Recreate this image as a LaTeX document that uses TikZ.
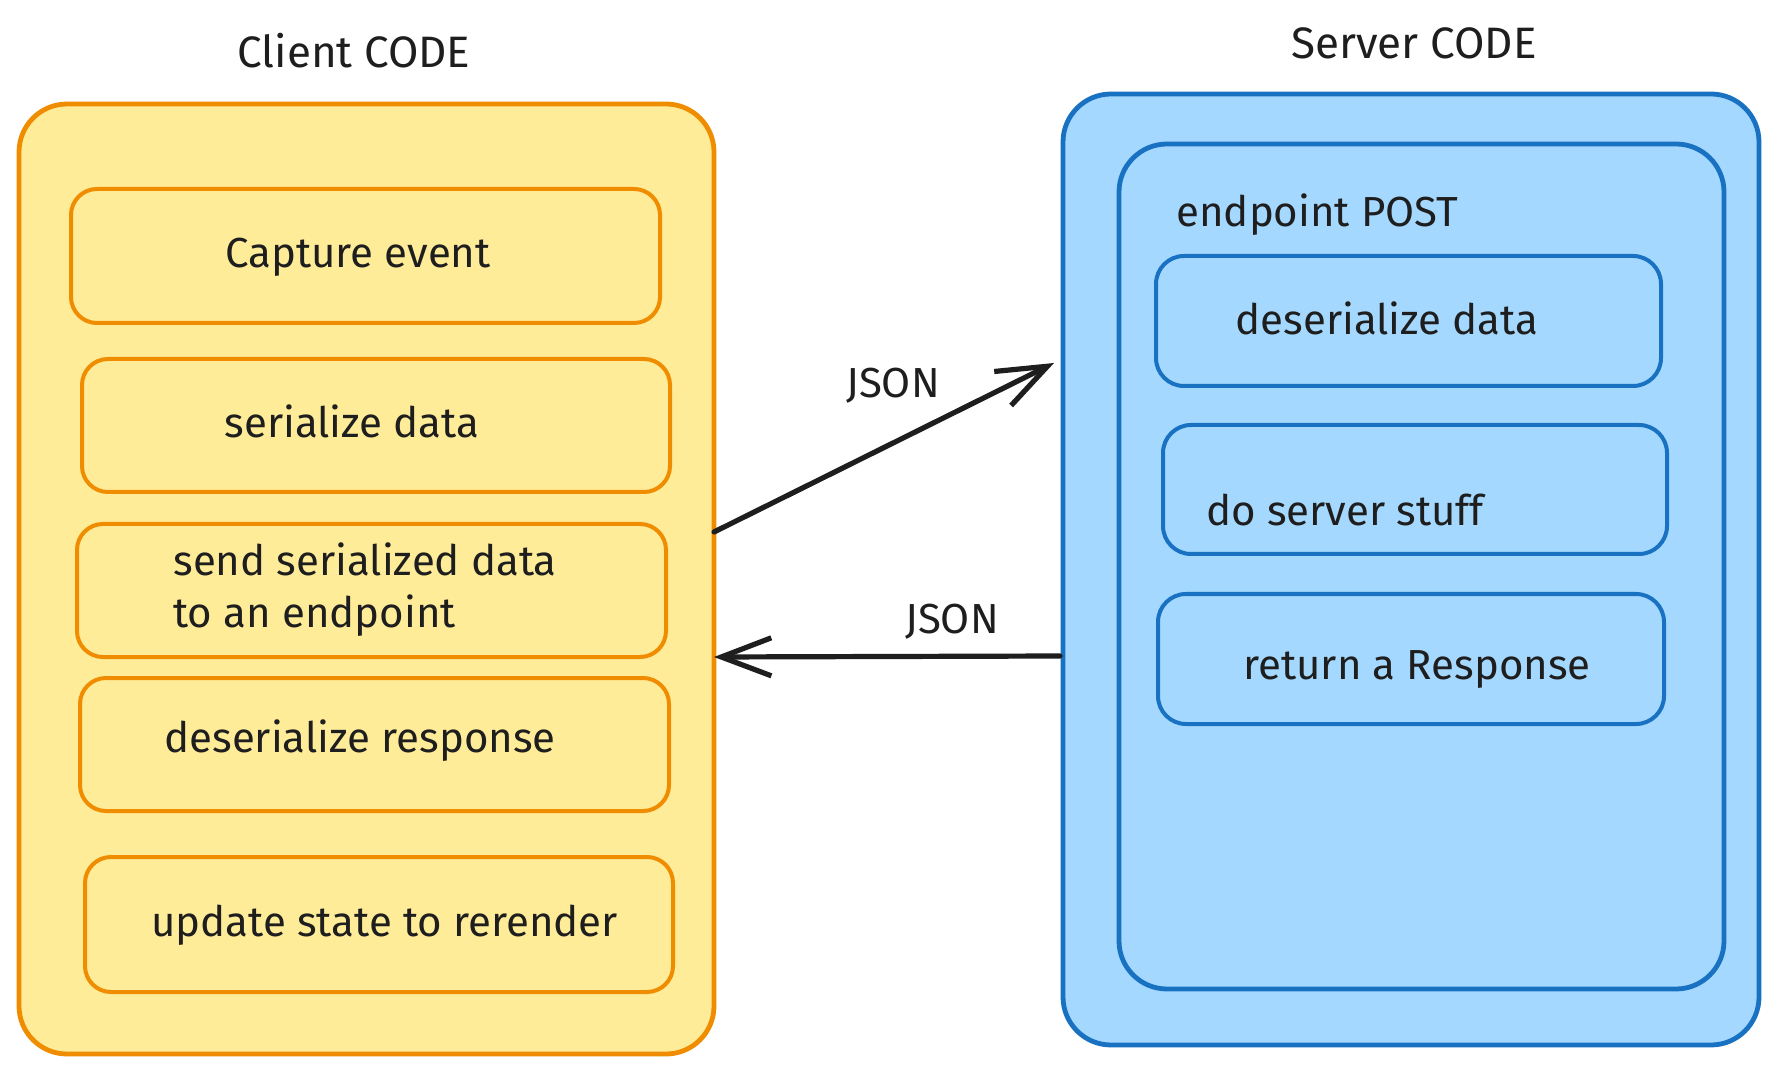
\documentclass[tikz,border=0pt]{standalone}
\usepackage{fontspec}
\setmainfont{Fira Sans}
\usetikzlibrary{arrows.meta}
\definecolor{ylfill}{HTML}{FFEC99}
\definecolor{ylline}{HTML}{F08C00}
\definecolor{blfill}{HTML}{A5D8FF}
\definecolor{blline}{HTML}{1971C2}
\definecolor{ink}{HTML}{1E1E1E}
\tikzset{
  outerc/.style={draw=ylline, fill=ylfill, line width=2.4pt, rounded corners=24pt, inner sep=0pt},
  innerc/.style={draw=ylline, fill=ylfill, line width=2pt, rounded corners=13pt, inner sep=0pt},
  outers/.style={draw=blline, fill=blfill, line width=2.4pt, rounded corners=24pt, inner sep=0pt},
  inners/.style={draw=blline, fill=blfill, line width=2pt, rounded corners=14pt, inner sep=0pt},
  lbl/.style={text=ink, font=\fontsize{21}{25}\selectfont, inner sep=0pt},
  ttl/.style={text=ink, font=\fontsize{22}{26}\selectfont, inner sep=0pt},
  conn/.style={draw=ink, line width=2.6pt, line cap=round, line join=round,
    -{Straight Barb[length=25pt, width=19pt, line width=2.6pt]}},
}
\begin{document}
\begin{tikzpicture}[x=0.5pt, y=-0.5pt]
\useasboundingbox[fill=white] (0,0) rectangle (1777,1074);
% titles
\node[ttl] (tclient) at (354,51) {Client CODE};
\node[ttl] (tserver) at (1414,43) {Server CODE};
% client
\node[outerc, minimum width=347.5pt, minimum height=475pt] (client) at (366.5,579) {};
\node[innerc, minimum width=294.5pt, minimum height=67pt] (c1) at (365.5,256) {};
\node[innerc, minimum width=294pt, minimum height=66.5pt] (c2) at (376,425.5) {};
\node[innerc, minimum width=294.5pt, minimum height=66.5pt] (c3) at (371.5,590.5) {};
\node[innerc, minimum width=294.5pt, minimum height=66.5pt] (c4) at (374.5,744.5) {};
\node[innerc, minimum width=294pt, minimum height=67.5pt] (c5) at (379,924.5) {};
\node[lbl] (c1t) at (358,257) {Capture event};
\node[lbl, anchor=west, align=left] (c3t) at (173,590) {send serialized data\\[1pt]to an endpoint};
\node[lbl] (c2t) at (352,421) {serialize data};
\node[lbl, anchor=west] (c4t) at (164,741) {deserialize response};
\node[lbl, anchor=west] (c5t) at (151,925) {update state to rerender};
% server
\node[outers, minimum width=348pt, minimum height=475.5pt] (server) at (1411,569.5) {};
\node[outers, minimum width=302.5pt, minimum height=422.5pt] (endp) at (1421.5,566.5) {};
\node[lbl, anchor=west] (endpt) at (1176,215) {endpoint POST};
\node[inners, minimum width=252.5pt, minimum height=65pt] (s1) at (1408.5,321) {};
\node[inners, minimum width=252pt, minimum height=64.5pt] (s2) at (1415,489.5) {};
\node[inners, minimum width=253pt, minimum height=65pt] (s3) at (1411,659) {};
\node[lbl] (s1t) at (1387,318) {deserialize data};
\node[lbl, anchor=west] (s2t) at (1206,510) {do server stuff};
\node[lbl, anchor=west] (s3t) at (1243,670) {return a Response};
% connectors
\coordinate (a1s) at (714,532);
\coordinate (a1e) at (1054,363);
\coordinate (a2s) at (1060,656);
\coordinate (a2e) at (714,657);
\draw[conn] (a1s) -- (a1e);
\draw[conn] (a2s) -- (a2e);
\node[lbl] (j1) at (893,386) {JSON};
\node[lbl] (j2) at (952,622) {JSON};
\end{tikzpicture}
\end{document}
